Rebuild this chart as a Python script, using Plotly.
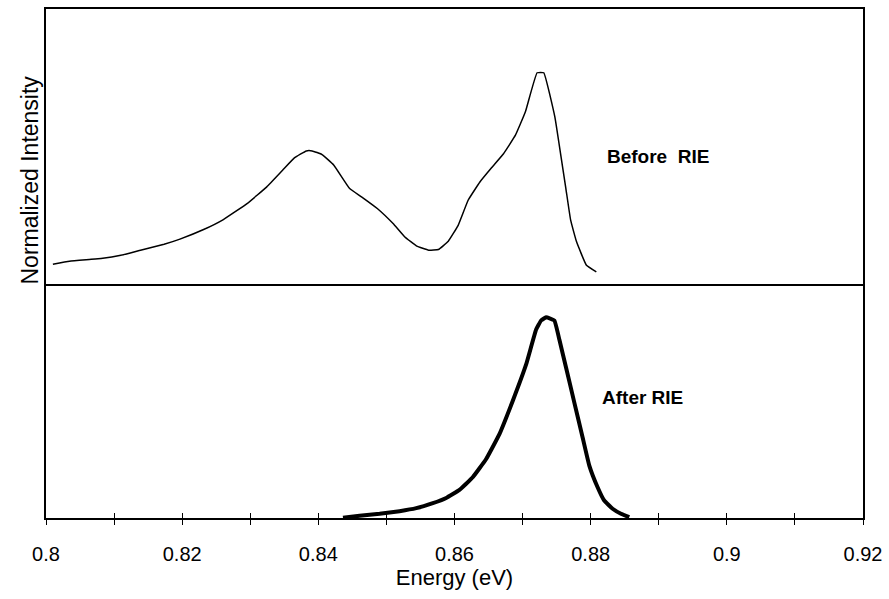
import plotly.graph_objects as go

# Before RIE (top panel), normalized intensity
before_energy = [0.80101, 0.80345, 0.80635, 0.80808, 0.81099, 0.81388, 0.81735, 0.81967,
                 0.82315, 0.82605, 0.82953, 0.83243, 0.83475, 0.83648, 0.83823, 0.83910,
                 0.84055, 0.84228, 0.84460, 0.84634, 0.84866, 0.85098, 0.85271, 0.85446,
                 0.85620, 0.85764, 0.85909, 0.86054, 0.86200, 0.86373, 0.86547, 0.86720,
                 0.86895, 0.87040, 0.87213, 0.87311, 0.87474, 0.87561, 0.87636, 0.87706,
                 0.87793, 0.87938, 0.88083]
before_intensity = [0.095, 0.109, 0.117, 0.122, 0.137, 0.161, 0.189, 0.213,
                    0.258, 0.305, 0.380, 0.459, 0.537, 0.595, 0.628, 0.628,
                    0.611, 0.561, 0.451, 0.412, 0.357, 0.286, 0.223, 0.180,
                    0.161, 0.164, 0.203, 0.278, 0.396, 0.482, 0.550, 0.615,
                    0.702, 0.811, 0.996, 0.996, 0.788, 0.608, 0.451, 0.302,
                    0.200, 0.090, 0.059]

# After RIE (bottom panel), normalized intensity
after_energy = [0.84362, 0.84606, 0.84900, 0.85193, 0.85438, 0.85682, 0.85878, 0.86073,
                0.86268, 0.86465, 0.86660, 0.86855, 0.87052, 0.87199, 0.87272, 0.87345,
                0.87467, 0.87540, 0.87639, 0.87760, 0.87882, 0.87980, 0.88102, 0.88199,
                0.88322, 0.88445, 0.88567]
after_intensity = [0.001, 0.011, 0.021, 0.034, 0.049, 0.074, 0.100, 0.140,
                   0.203, 0.294, 0.418, 0.583, 0.765, 0.939, 0.984, 1.000,
                   0.984, 0.889, 0.749, 0.575, 0.401, 0.261, 0.153, 0.087,
                   0.046, 0.021, 0.004]

x_tick_vals = [0.8, 0.82, 0.84, 0.86, 0.88, 0.9, 0.92]
x_tick_text = ["0.8", "0.82", "0.84", "0.86", "0.88", "0.9", "0.92"]

FONT = "Liberation Sans, Arial, sans-serif"

fig = go.Figure()
fig.add_trace(go.Scatter(x=before_energy, y=before_intensity, mode="lines",
                         line=dict(color="black", width=1.5, shape="spline", smoothing=0.3),
                         xaxis="x2", yaxis="y2",
                         showlegend=False, hoverinfo="skip"))
fig.add_trace(go.Scatter(x=after_energy, y=after_intensity, mode="lines",
                         line=dict(color="black", width=4, shape="spline", smoothing=0.3),
                         xaxis="x", yaxis="y",
                         showlegend=False, hoverinfo="skip"))
# invisible copy so that the overlaid tick axis (upper half of crossing ticks) is drawn
fig.add_trace(go.Scatter(x=after_energy, y=after_intensity, mode="lines",
                         line=dict(color="rgba(0,0,0,0)", width=0), opacity=0,
                         xaxis="x3", yaxis="y",
                         showlegend=False, hoverinfo="skip"))

split = 0.459
fig.update_layout(
    width=889, height=599,
    margin=dict(l=46, r=25, t=7, b=81),
    paper_bgcolor="white", plot_bgcolor="white",
    font=dict(family=FONT, color="black"),
    xaxis=dict(domain=[0, 1], anchor="y", range=[0.8, 0.92],
               tickvals=x_tick_vals, ticktext=x_tick_text,
               tickmode="array", ticks="outside", ticklen=5, tickwidth=1, tickcolor="black",
               minor=dict(dtick=0.01, tick0=0.8, ticks="outside", ticklen=5, tickcolor="black"),
               ticklabelstandoff=12,
               tickfont=dict(size=20, family=FONT),
               showline=True, linecolor="black", linewidth=2, mirror=False,
               showgrid=False, zeroline=False,
               title=dict(text="Energy (eV)", font=dict(size=22, family=FONT), standoff=2)),
    xaxis3=dict(overlaying="x", anchor="y", range=[0.8, 0.92],
                tickmode="linear", tick0=0.8, dtick=0.01, ticks="inside", ticklen=5,
                tickcolor="black", showticklabels=False, showline=False,
                showgrid=False, zeroline=False),
    yaxis=dict(domain=[0, split], anchor="x", range=[0, 1.164],
               showticklabels=False, ticks="", showgrid=False, zeroline=False,
               showline=True, linecolor="black", linewidth=1.5, mirror=True),
    xaxis2=dict(domain=[0, 1], anchor="y2", range=[0.8, 0.92], showticklabels=False,
                ticks="", showgrid=False, zeroline=False,
                showline=True, linecolor="black", linewidth=2, mirror=True),
    yaxis2=dict(domain=[split, 1], anchor="x2", range=[0, 1.296],
                showticklabels=False, ticks="", showgrid=False, zeroline=False,
                showline=True, linecolor="black", linewidth=1.5, mirror=True),
    annotations=[
        dict(text="<b>Before  RIE</b>", xref="paper", yref="paper", x=0.749, y=0.710,
             xanchor="center", yanchor="middle", showarrow=False,
             font=dict(size=19, family=FONT)),
        dict(text="<b>After RIE</b>", xref="paper", yref="paper", x=0.730, y=0.237,
             xanchor="center", yanchor="middle", showarrow=False,
             font=dict(size=19, family=FONT)),
        dict(text="Normalized Intensity", xref="paper", yref="paper", x=-0.0196, y=0.665,
             xanchor="center", yanchor="middle", showarrow=False, textangle=-90,
             font=dict(size=23, family=FONT)),
    ],
)

fig.write_html("out.html")
